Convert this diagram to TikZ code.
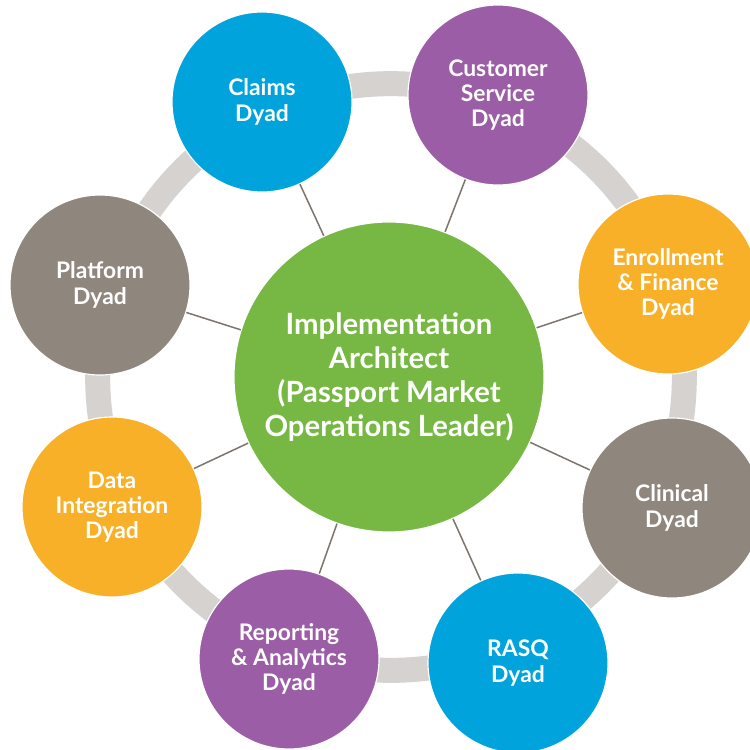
\documentclass[tikz,border=0pt]{standalone}
\usepackage{fontspec}
\setmainfont{Lato}
\usepackage{xcolor}
\usetikzlibrary{positioning}

\definecolor{dyadblue}{RGB}{0,163,219}
\definecolor{dyadpurple}{RGB}{155,93,165}
\definecolor{dyadgray}{RGB}{143,134,126}
\definecolor{dyadorange}{RGB}{247,176,39}
\definecolor{leadgreen}{RGB}{118,184,67}
\definecolor{ringgray}{RGB}{214,210,207}
\definecolor{spokegray}{RGB}{125,118,112}

\begin{document}
\begin{tikzpicture}[x=0.03cm, y=-0.03cm,
  dyad/.style={circle, draw=white, line width=1pt, minimum size=5.4cm, inner sep=0pt,
    text=white, align=center, font=\bfseries\fontsize{19.5}{21.5}\selectfont},
  lead/.style={circle, draw=white, line width=1pt, fill=leadgreen, minimum size=9.3cm,
    inner sep=0pt, text=white, align=center, font=\bfseries\fontsize{25}{29}\selectfont},
  spoke/.style={draw=spokegray, line width=1.3pt},
  ring/.style={draw=ringgray, line width=0.75cm}]
  \useasboundingbox (0,0) rectangle (750,750);
  \clip (0,0) rectangle (750,750);

  % grey ring behind the dyads
  \draw[ring] (391,377) circle[radius=8.8cm];

  \node[lead] (arch) at (389,377) {Implementation\\Architect\\(Passport Market\\Operations Leader)};

  \foreach \name/\x/\y/\col/\txt in {
      claims/262/102/dyadblue/{Claims\\Dyad},
      service/498/95/dyadpurple/{Customer\\Service\\Dyad},
      enroll/668/284/dyadorange/{Enrollment\\\& Finance\\Dyad},
      clinical/672/508/dyadgray/{Clinical\\Dyad},
      rasq/518/663/dyadblue/{RASQ\\Dyad},
      report/289/659/dyadpurple/{Reporting\\\& Analytics\\Dyad},
      dataint/112/507/dyadorange/{Data\\Integration\\Dyad},
      platform/100/285/dyadgray/{Platform\\Dyad}}{
    \node[dyad, fill=\col] (\name) at (\x,\y) {\txt};
    \draw[spoke] (arch) -- (\name);
  }
\end{tikzpicture}
\end{document}
